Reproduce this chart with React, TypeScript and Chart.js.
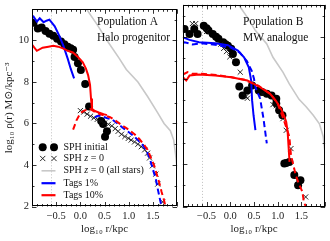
import React, { useEffect, useRef } from 'react';
import { Chart, registerables } from 'chart.js';
Chart.register(...registerables);

type P = [number, number];

// ---------- axes ----------
const X_MIN = -1, X_MAX = 2, Y_MIN = 2, Y_MAX = 11.5;
const xMajorTicks = [-1, -0.5, 0, 0.5, 1, 1.5, 2];
const xLabelledTicks = [-0.5, 0, 0.5, 1, 1.5];
const yMajorTicks = [2, 4, 6, 8, 10];
const yMinorTicks = [3, 5, 7, 9, 11];
const softeningLogR = -0.6;

// ---------- Panel A : Population A / Halo progenitor ----------
const A_allStars: P[] = [[0.1, 11.6], [0.13, 11.5], [0.35, 10.75], [0.58, 9.9], [0.8, 9.15], [0.95, 8.6], [1.19, 8.0], [1.39, 7.3], [1.59, 6.55], [1.73, 6.0], [1.86, 5.65], [1.93, 5.2], [1.98, 4.3], [2.0, 3.8]];
const A_sphInitial: P[] = [[-0.97, 10.85], [-0.88, 10.58], [-0.8, 10.62], [-0.72, 10.45], [-0.64, 10.32], [-0.56, 10.22], [-0.48, 10.08], [-0.4, 9.95], [-0.33, 9.82], [-0.26, 9.7], [-0.2, 9.62], [-0.15, 9.55], [-0.12, 9.2], [-0.05, 8.9], [0.01, 8.58], [0.1, 7.9], [0.18, 6.82], [0.43, 6.12], [0.47, 5.98], [0.55, 5.62], [0.51, 5.36]];
const A_sphZ0: P[] = [[0.0, 6.62], [0.07, 6.55], [0.14, 6.45], [0.21, 6.35], [0.28, 6.27], [0.35, 6.2], [0.43, 6.1], [0.5, 6.02], [0.58, 5.96], [0.65, 5.88], [0.72, 5.75], [0.78, 5.62], [0.85, 5.48], [0.92, 5.37], [0.99, 5.28], [1.05, 5.2], [1.12, 5.11], [1.19, 5.0], [1.26, 4.88], [1.33, 4.73], [1.39, 4.57], [1.43, 4.34], [1.49, 3.96], [1.56, 3.56], [1.6, 3.08], [1.7, 2.22]];
const A_tags1Init: P[] = [[-1.0, 11.2], [-0.97, 11.15], [-0.9, 10.91], [-0.84, 11.07], [-0.76, 10.88], [-0.7, 10.95], [-0.64, 11.0], [-0.53, 10.68], [-0.43, 10.2], [-0.35, 9.74], [-0.26, 9.11], [-0.2, 8.64], [-0.13, 8.17]];
const A_tags1Z0: P[] = [[0.3, 6.3], [0.38, 6.38], [0.47, 6.32], [0.56, 6.25], [0.65, 6.2], [0.74, 6.05], [0.82, 5.9], [0.9, 5.75], [0.99, 5.6], [1.1, 5.4], [1.19, 5.2], [1.28, 4.98], [1.36, 4.72], [1.43, 4.35], [1.49, 3.87], [1.56, 3.32], [1.6, 2.85], [1.65, 2.3], [1.68, 2.0]];
const A_tags10Init: P[] = [[-1.0, 9.8], [-0.9, 9.5], [-0.78, 9.65], [-0.66, 9.7], [-0.56, 9.74], [-0.46, 9.7], [-0.36, 9.62], [-0.26, 9.5], [-0.155, 9.42], [-0.05, 9.2], [0.05, 8.95], [0.115, 8.64], [0.16, 8.33], [0.2, 7.86], [0.22, 7.2], [0.24, 6.7], [0.3, 6.6], [0.38, 6.53], [0.48, 6.45], [0.55, 6.4]];
const A_tags10Z0: P[] = [[-0.15, 5.7], [-0.08, 6.15], [0.0, 6.5], [0.08, 6.62], [0.2, 6.7], [0.3, 6.55], [0.4, 6.45], [0.5, 6.38], [0.615, 6.3], [0.72, 6.15], [0.82, 5.98], [0.92, 5.82], [1.02, 5.67], [1.12, 5.48], [1.22, 5.25], [1.31, 5.0], [1.39, 4.73], [1.46, 4.34], [1.53, 3.95], [1.58, 3.55], [1.63, 3.16], [1.68, 2.7], [1.73, 2.3], [1.76, 2.0]];

// ---------- Panel B : Population B / MW analogue ----------
const B_allStars: P[] = [[0.15, 11.6], [0.19, 11.46], [0.36, 10.91], [0.53, 10.29], [0.77, 9.66], [0.9, 9.03], [1.11, 8.33], [1.245, 7.78], [1.45, 7.05], [1.6, 6.7], [1.75, 6.3], [1.88, 5.9], [1.96, 5.3], [2.0, 4.5]];
const B_sphInitial: P[] = [[-0.965, 10.37], [-0.86, 10.13], [-0.76, 10.37], [-0.69, 10.13], [-0.56, 10.52], [-0.5, 10.4], [-0.46, 10.29], [-0.37, 10.13], [-0.3, 10.0], [-0.25, 9.9], [-0.15, 9.74], [-0.1, 9.65], [-0.05, 9.58], [0.02, 9.43], [0.055, 9.19], [0.12, 8.8], [0.19, 7.66], [0.26, 7.23], [0.36, 7.47], [0.46, 7.7], [0.6, 7.47], [0.67, 7.39], [0.77, 7.31], [0.87, 7.23], [0.97, 7.08], [0.97, 6.85], [1.03, 6.53], [1.1, 6.3], [1.14, 4.03], [1.18, 4.05], [1.245, 4.1], [1.35, 3.48], [1.48, 3.24], [1.43, 3.0]];
const B_sphZ0: P[] = [[-0.8, 10.62], [-0.73, 10.62], [-0.5, 10.25], [-0.2, 9.65], [-0.14, 9.45], [-0.08, 9.3], [-0.01, 9.05], [0.21, 8.33], [0.33, 7.18], [0.36, 7.1], [0.68, 7.3], [0.9, 6.8], [0.97, 6.75], [1.11, 6.14], [1.18, 5.59], [1.28, 4.73], [1.59, 2.45]];
const B_tags1Init: P[] = [[-1.0, 9.97], [-0.86, 9.85], [-0.66, 9.74], [-0.32, 9.69], [-0.05, 9.6], [0.16, 9.35], [0.29, 9.03], [0.39, 8.56], [0.44, 7.94], [0.46, 7.0], [0.49, 6.3], [0.53, 5.6]];
const B_tags1Z0: P[] = [[-1.0, 9.7], [-0.965, 9.74], [-0.8, 9.64], [-0.59, 9.69], [-0.32, 9.62], [0.0, 9.5], [0.2, 9.25], [0.35, 8.85], [0.45, 8.4], [0.5, 8.02], [0.53, 7.62], [0.63, 7.08], [0.7, 6.14], [0.77, 4.97]];
const B_tags10Init: P[] = [[-1.0, 8.09], [-0.93, 7.94], [-0.86, 8.17], [-0.66, 8.22], [-0.32, 8.17], [0.02, 8.09], [0.36, 7.94], [0.63, 7.62], [0.84, 7.31], [0.97, 6.95], [1.07, 6.6], [1.14, 6.25], [1.18, 5.98], [1.21, 5.51], [1.23, 4.8], [1.25, 4.1]];
const B_tags10Z0: P[] = [[-1.0, 8.22], [-0.9, 8.33], [-0.8, 8.25], [-0.6, 8.25], [-0.3, 8.2], [0.0, 8.1], [0.3, 7.97], [0.6, 7.68], [0.85, 7.3], [1.0, 6.85], [1.11, 6.2], [1.2, 5.6], [1.245, 5.3], [1.28, 4.42], [1.33, 3.95], [1.38, 3.48], [1.45, 3.05], [1.52, 2.7], [1.55, 2.25], [1.59, 2.0]];

const legendLabels = ['SPH initial', 'SPH z = 0', 'SPH z = 0 (all stars)', 'Tags 1%', 'Tags 10%'];

const BLUE = '#0000ff';
const RED = '#ff0000';
const GREY = '#c8c8c8';
const SERIF = '"Liberation Serif", "DejaVu Serif", serif';

interface PanelSeries {
  allStars: P[]; sphInitial: P[]; sphZ0: P[];
  tags1Init: P[]; tags1Z0: P[]; tags10Init: P[]; tags10Z0: P[];
}

const toXY = (arr: P[]) => arr.map(([x, y]) => ({ x, y }));
const fmt = (v: number) => (v < 0 ? '\u2212' + Math.abs(v).toFixed(1) : v.toFixed(1));

function makeDatasets(s: PanelSeries): any[] {
  const line = (label: string, data: P[], color: string, dash: number[], order: number, w = 2) => ({
    label, data: toXY(data), showLine: true, borderColor: color, backgroundColor: color,
    borderWidth: w, borderDash: dash, pointRadius: 0, pointHoverRadius: 0, tension: 0, order, fill: false,
  });
  return [
    line(legendLabels[2], s.allStars, GREY, [], 10, 1.6),
    {
      label: legendLabels[0], data: toXY(s.sphInitial), showLine: false, pointStyle: 'circle',
      pointRadius: 4, backgroundColor: '#000', borderColor: '#000', borderWidth: 0, order: 7,
    },
    {
      label: legendLabels[1], data: toXY(s.sphZ0), showLine: false, pointStyle: 'crossRot',
      pointRadius: 3.6, backgroundColor: '#000', borderColor: '#111', borderWidth: 0.9, order: 6,
    },
    line('Tags 1% initial', s.tags1Init, BLUE, [], 4),
    line('Tags 1% z=0', s.tags1Z0, BLUE, [6, 3.5], 3),
    line('Tags 10% initial', s.tags10Init, RED, [], 2),
    line('Tags 10% z=0', s.tags10Z0, RED, [6, 3.5], 1),
  ];
}

function drawMixed(ctx: CanvasRenderingContext2D, parts: [string, boolean][], x: number, y: number, size: number) {
  let cx = x;
  for (const [t, it] of parts) {
    ctx.font = `${it ? 'italic ' : ''}${size}px ${SERIF}`;
    ctx.fillText(t, cx, y);
    cx += ctx.measureText(t).width;
  }
}

function decorPlugin(title1: string, title2: string, titleX: number, legend: boolean) {
  return {
    id: 'decor',
    beforeDatasetsDraw(chart: any) {
      const { ctx, chartArea: a, scales } = chart;
      const px = scales.x.getPixelForValue(softeningLogR);
      ctx.save();
      ctx.strokeStyle = '#b0b0b0';
      ctx.lineWidth = 0.8;
      ctx.setLineDash([1, 2]);
      ctx.beginPath();
      ctx.moveTo(Math.round(px) + 0.5, a.top);
      ctx.lineTo(Math.round(px) + 0.5, a.bottom);
      ctx.stroke();
      ctx.restore();
    },
    afterDraw(chart: any) {
      const { ctx, chartArea: a, scales } = chart;
      const xs = scales.x, ys = scales.y;
      ctx.save();
      ctx.strokeStyle = '#000';
      ctx.lineWidth = 1;
      ctx.setLineDash([]);
      ctx.strokeRect(Math.round(a.left) + 0.5, Math.round(a.top) + 0.5, Math.round(a.right - a.left) - 1, Math.round(a.bottom - a.top) - 1);
      const tick = (x1: number, y1: number, x2: number, y2: number) => {
        ctx.beginPath(); ctx.moveTo(x1, y1); ctx.lineTo(x2, y2); ctx.stroke();
      };
      ctx.lineWidth = 0.8;
      for (let i = 0; i <= 30; i++) {
        const v = X_MIN + i * 0.1;
        const major = xMajorTicks.some((m) => Math.abs(m - v) < 1e-6);
        const len = major ? 4.5 : 2.5;
        const p = Math.round(xs.getPixelForValue(v)) + 0.5;
        tick(p, a.bottom, p, a.bottom - len);
        tick(p, a.top, p, a.top + len);
      }
      const yt = [...yMajorTicks.map((v) => [v, 4.5]), ...yMinorTicks.map((v) => [v, 2.5])];
      for (const [v, len] of yt) {
        const p = Math.round(ys.getPixelForValue(v)) + 0.5;
        tick(a.left, p, a.left + len, p);
        tick(a.right, p, a.right - len, p);
      }
      ctx.fillStyle = '#111';
      ctx.textBaseline = 'middle';
      ctx.textAlign = 'left';
      ctx.font = `11.5px ${SERIF}`;
      ctx.fillText(title1, titleX, 22);
      ctx.fillText(title2, titleX, 37.7);
      if (legend) {
        const mx = [42.7, 54];
        const rows = [147.3, 158.5, 170.8, 183.2, 195.2];
        ctx.fillStyle = '#000';
        for (const m of mx) { ctx.beginPath(); ctx.arc(m, rows[0], 4, 0, Math.PI * 2); ctx.fill(); }
        ctx.strokeStyle = '#111'; ctx.lineWidth = 0.9;
        for (const m of mx) {
          const r = 2.6;
          tick(m - r, rows[1] - r, m + r, rows[1] + r);
          tick(m - r, rows[1] + r, m + r, rows[1] - r);
        }
        const hl = (y: number, c: string, w: number) => { ctx.strokeStyle = c; ctx.lineWidth = w; tick(41.5, y, 55.5, y); };
        hl(rows[2], GREY, 1.6); hl(rows[3], BLUE, 2.2); hl(rows[4], RED, 2.2);
        ctx.fillStyle = '#111';
        const tx = 63.5, fs = 10;
        drawMixed(ctx, [[legendLabels[0], false]], tx, rows[0], fs);
        drawMixed(ctx, [['SPH ', false], ['z', true], [' = 0', false]], tx, rows[1], fs);
        drawMixed(ctx, [['SPH ', false], ['z', true], [' = 0 (all stars)', false]], tx, rows[2], fs);
        drawMixed(ctx, [[legendLabels[3], false]], tx, rows[3], fs);
        drawMixed(ctx, [[legendLabels[4], false]], tx, rows[4], fs);
      }
      ctx.restore();
    },
  };
}

function makeConfig(series: PanelSeries, showY: boolean, padding: any, t1: string, t2: string, tx: number, legend: boolean): any {
  const font = { family: SERIF, size: 10.5 };
  return {
    type: 'scatter',
    data: { datasets: makeDatasets(series) },
    options: {
      animation: false,
      responsive: false,
      devicePixelRatio: 1,
      layout: { padding },
      plugins: { legend: { display: false }, tooltip: { enabled: false } },
      events: [],
      scales: {
        x: {
          type: 'linear', min: X_MIN, max: X_MAX,
          afterBuildTicks: (s: any) => { s.ticks = xMajorTicks.map((v) => ({ value: v })); },
          afterFit: (s: any) => { s.height = 34.5; },
          ticks: {
            autoSkip: false, maxRotation: 0, minRotation: 0, padding: 3, font, color: '#222',
            callback: (v: number) => (xLabelledTicks.some((m) => Math.abs(m - v) < 1e-6) ? fmt(v) : ''),
          },
          grid: { display: false, drawTicks: false },
          border: { display: false },
          title: { display: true, text: 'log\u2081\u2080 r/kpc', font: { family: SERIF, size: 11 }, color: '#222', padding: { top: 0, bottom: 5 } },
        },
        y: {
          type: 'linear', min: Y_MIN, max: Y_MAX, display: showY,
          afterBuildTicks: (s: any) => { s.ticks = yMajorTicks.map((v) => ({ value: v })); },
          afterFit: (s: any) => { s.width = showY ? 32 : 0; },
          ticks: { padding: 3, font, color: '#222', callback: (v: number) => String(v) },
          grid: { display: false, drawTicks: false },
          border: { display: false },
          title: { display: true, text: 'log\u2081\u2080 \u03C1(r) M\u2299/kpc\u207B\u00B3', font: { family: SERIF, size: 11 }, color: '#222', padding: { top: 3, bottom: 0 } },
        },
      },
    },
    plugins: [decorPlugin(t1, t2, tx, legend)],
  };
}

const panelA: PanelSeries = { allStars: A_allStars, sphInitial: A_sphInitial, sphZ0: A_sphZ0, tags1Init: A_tags1Init, tags1Z0: A_tags1Z0, tags10Init: A_tags10Init, tags10Z0: A_tags10Z0 };
const panelB: PanelSeries = { allStars: B_allStars, sphInitial: B_sphInitial, sphZ0: B_sphZ0, tags1Init: B_tags1Init, tags1Z0: B_tags1Z0, tags10Init: B_tags10Init, tags10Z0: B_tags10Z0 };

export default function App() {
  const leftRef = useRef<HTMLCanvasElement>(null);
  const rightRef = useRef<HTMLCanvasElement>(null);
  useEffect(() => {
    const c1 = new Chart(leftRef.current!, makeConfig(panelA, true, { left: 0, right: 2, top: 4, bottom: 0 }, 'Population A', 'Halo progenitor', 97, true));
    const c2 = new Chart(rightRef.current!, makeConfig(panelB, false, { left: 2, right: 3, top: 4, bottom: 0 }, 'Population B', 'MW analogue', 65, false));
    return () => { c1.destroy(); c2.destroy(); };
  }, []);
  return (
    <div style={{ position: 'fixed', left: 0, top: 0, width: 330, height: 241, background: '#fff', overflow: 'hidden' }}>
      <canvas ref={leftRef} width={182} height={241} style={{ position: 'absolute', left: 0, top: 0, width: 182, height: 241 }} />
      <canvas ref={rightRef} width={152} height={241} style={{ position: 'absolute', left: 178, top: 0, width: 152, height: 241 }} />
    </div>
  );
}
